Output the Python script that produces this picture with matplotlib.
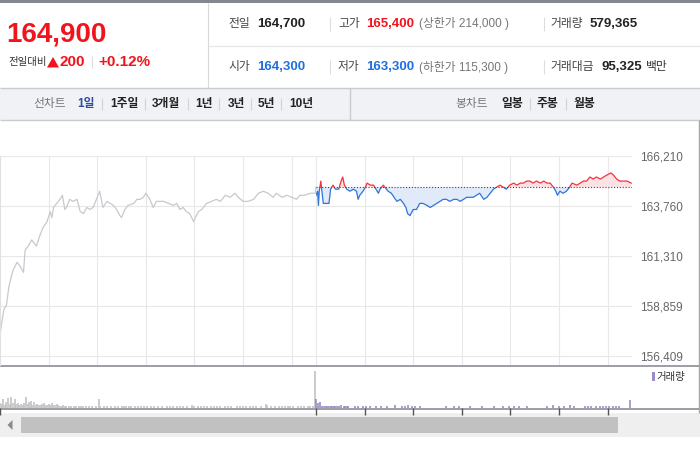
import numpy as np
import matplotlib
matplotlib.use("Agg")
import matplotlib.pyplot as plt
from matplotlib.patches import Rectangle, Polygon

plt.rcParams['font.family'] = ['Liberation Sans', 'Noto Sans CJK KR', 'DejaVu Sans']

# ---- data ----
base = 164700            # previous close
y_ticks = [156409, 158859, 161310, 163760, 166210]
hour_ticks = [60, 120, 180, 240, 300, 360, 390, 450, 510, 570, 630, 690, 750]
vol_ticks = [0, 390, 450, 510, 570, 630, 690, 750]

# previous day (minutes from 09:00, price)
prev_t = [0, 2, 5, 8, 11, 14, 16, 21, 25, 29, 31, 35, 39, 43, 45, 49, 53, 58, 62, 64,
          66, 70, 74, 77, 80, 82, 86, 90, 95, 99, 103, 107, 111, 115, 119, 123, 127, 132, 136, 140,
          144, 148, 150, 154, 158, 165, 169, 173, 177, 180, 185, 189, 193, 195, 202, 208, 214, 218, 222, 226,
          230, 234, 239, 241, 245, 249, 255, 261, 267, 272, 278, 284, 290, 294, 300, 306, 313, 319, 325, 331,
          337, 341, 348, 354, 360, 366, 370, 376, 383, 389, 390]
prev_px = [157400, 158000, 158700, 158900, 159800, 160300, 160600, 161000, 160800, 160500,
           161600, 161800, 162100, 161900, 161800, 162300, 162700, 163000, 163500, 163200,
           163700, 163900, 164100, 164300, 163600, 163700, 164100, 164000, 164100, 163500,
           163400, 163700, 163600, 163700, 164100, 164500, 163700, 164000, 163900, 163800,
           163600, 163300, 163200, 163600, 163800, 163900, 164100, 164100, 164200, 164400,
           164100, 163700, 164000, 164000, 164000, 163900, 163800, 163900, 163600, 163700,
           163500, 163400, 163000, 163200, 163500, 163600, 163900, 164000, 164100, 164000,
           164300, 164200, 164400, 164200, 164000, 164000, 164100, 164400, 164500, 164400,
           164200, 164400, 164200, 164300, 164200, 164100, 164300, 164300, 164400, 164400,
           164700]

# today
today_t = [0, 2, 3, 4, 6, 7, 9, 13, 16, 18, 21, 24, 28, 31, 33, 35, 38, 42, 46, 50,
           52, 54, 58, 61, 63, 67, 71, 74, 77, 79, 83, 85, 89, 93, 98, 100, 104, 108, 111, 113,
           116, 120, 124, 128, 132, 137, 141, 145, 149, 153, 157, 161, 165, 170, 174, 178, 182, 186, 190, 194,
           198, 202, 207, 211, 215, 219, 223, 227, 231, 235, 239, 244, 248, 252, 256, 260, 264, 268, 272, 277,
           281, 285, 289, 293, 296, 298, 301, 305, 309, 313, 316, 322, 326, 330, 334, 338, 342, 346, 351, 355,
           359, 364, 367, 371, 375, 379, 384, 389]
today_px = [164300, 164500, 163800, 164500, 165000, 164600, 163900, 163900, 163900, 164600,
            164800, 164600, 164600, 165000, 165200, 164800, 164600, 164500, 164600, 164500,
            164100, 164300, 164500, 164700, 164900, 164800, 164800, 164600, 164400, 164600,
            164800, 164700, 164500, 164400, 164100, 164000, 164100, 163900, 163700, 163400,
            163300, 163600, 163600, 163900, 163900, 163800, 163700, 163800, 163900, 164000,
            164100, 164100, 164000, 164100, 164100, 164000, 164100, 164200, 164200, 164200,
            164300, 164400, 164100, 164200, 164400, 164600, 164700, 164800, 164700, 164600,
            164800, 164900, 164800, 164900, 164900, 165000, 165000, 164900, 165000, 164900,
            165000, 164900, 164900, 164700, 164500, 164300, 164500, 164400, 164500, 164700,
            164900, 164800, 164900, 165000, 165000, 165200, 165100, 165200, 165100, 165200,
            165300, 165400, 165300, 165100, 165000, 165000, 165000, 164900]

# volume (shares)
prev_vol_t = [0, 2, 4, 6, 8, 10, 12, 14, 16, 18, 20, 22, 24, 26, 28, 30, 32, 34, 36, 38,
              40, 42, 44, 46, 48, 50, 52, 54, 56, 58, 60, 62, 64, 66, 68, 70, 72, 74, 76, 78,
              80, 82, 85, 88, 91, 94, 97, 100, 103, 106, 110, 114, 118, 122, 124, 128, 132, 137, 142, 146,
              150, 153, 156, 159, 162, 166, 170, 174, 178, 182, 186, 190, 195, 200, 206, 210, 214, 218, 222, 226,
              231, 237, 240, 244, 248, 252, 256, 260, 264, 268, 272, 278, 282, 285, 292, 296, 300, 304, 308, 312,
              316, 322, 328, 330, 335, 340, 344, 348, 352, 355, 358, 362, 368, 372, 375, 380, 383, 386, 389]
prev_vol = [10000, 8000, 18000, 6000, 12000, 20000, 8000, 22000, 10000, 18000,
            8000, 10000, 6000, 8000, 6000, 10000, 22000, 8000, 12000, 14000,
            6000, 12000, 6000, 8000, 6000, 6000, 8000, 10000, 6000, 6000,
            8000, 6000, 10000, 6000, 6000, 8000, 6000, 4000, 4000, 6000,
            4000, 4000, 4000, 4000, 3000, 4000, 3000, 4000, 3000, 3000,
            4000, 3000, 3000, 18000, 3000, 3000, 3000, 3000, 3000, 3000,
            3000, 3000, 3000, 3000, 3000, 3000, 3000, 3000, 3000, 3000,
            3000, 3000, 3000, 3000, 3000, 3000, 3000, 3000, 3000, 3000,
            3000, 6000, 3000, 3000, 3000, 3000, 3000, 3000, 3000, 3000,
            3000, 3000, 3000, 3000, 3000, 3000, 3000, 3000, 3000, 3000,
            3000, 3000, 8000, 6000, 3000, 3000, 3000, 3000, 3000, 3000,
            3000, 3000, 3000, 3000, 3000, 3000, 3000, 3000, 74000]
today_vol_t = [0, 2, 5, 8, 10, 12, 14, 16, 18, 20, 22, 24, 26, 28, 31, 34, 36, 38, 40, 48,
               52, 58, 62, 67, 74, 80, 88, 97, 106, 110, 113, 118, 122, 128, 161, 170, 176, 190, 205, 220,
               231, 238, 244, 250, 260, 285, 293, 300, 306, 314, 318, 332, 336, 340, 345, 350, 354, 358, 362, 366,
               370, 374, 387]
today_vol = [18000, 10000, 12000, 4000, 4000, 4000, 4000, 4000, 4000, 4000,
             4000, 4000, 4000, 4000, 6000, 4000, 4000, 4000, 4000, 3000,
             3000, 3000, 3000, 3000, 4000, 3000, 3000, 6000, 3000, 3000,
             6000, 3000, 3000, 3000, 3000, 3000, 3000, 3000, 3000, 3000,
             4000, 3000, 3000, 3000, 3000, 3000, 5000, 3000, 3000, 6000,
             4000, 3000, 3000, 3000, 3000, 3000, 4000, 3000, 3000, 3000,
             3000, 3000, 16000]

RED = '#f2141c'
BLUE = '#1e6fe0'
DARK = '#222222'

fig = plt.figure(figsize=(7, 4.5), dpi=100)

# background / header canvas in pixel coords
bg = fig.add_axes([0, 0, 1, 1])
bg.set_xlim(0, 700)
bg.set_ylim(450, 0)
bg.axis('off')


def line(x0, y0, x1, y1, c='#d8d8d8', lw=0.8):
    bg.plot([x0, x1], [y0, y1], color=c, lw=lw, solid_capstyle='butt')


def txt(x, y, s, size=8.5, c=DARK, bold=False, **kw):
    bg.text(x, y, s, fontsize=size, color=c, va='center', ha='left',
            fontweight='bold' if bold else 'normal', **kw)


# top strip
bg.add_patch(Rectangle((0, 0), 700, 3, color='#83878e', lw=0))
line(208, 3, 208, 88)
line(208, 45.5, 700, 45.5, c='#e6e6e6')

# current price block
txt(6, 35, '164,900', size=20, c=RED, bold=True)
txt(8, 62, '전일대비', size=7.5, c='#333333')
bg.add_patch(Polygon([(47, 67.5), (59, 67.5), (53, 57)], closed=True, color=RED, lw=0))
txt(59.5, 62, '200', size=11, c=RED, bold=True)
line(92, 56, 92, 68, c='#dddddd')
txt(98, 62, '+0.12%', size=11, c=RED, bold=True)

# quote rows
quote_rows = [
    (24, '전일', '164,700', DARK, '고가', '165,400', RED, '(상한가 214,000 )', '거래량', '579,365', ''),
    (67, '시가', '164,300', BLUE, '저가', '163,300', BLUE, '(하한가 115,300 )', '거래대금', '95,325', '백만'),
]
for yy, l1, v1, c1, l2, v2, c2, lim, l3, v3, unit in quote_rows:
    txt(228, yy, l1, size=8.5, c='#444444')
    txt(257, yy, v1, size=9.5, c=c1, bold=True)
    line(330, yy - 7, 330, yy + 7, c='#dddddd')
    txt(338, yy, l2, size=8.5, c='#444444')
    txt(366, yy, v2, size=9.5, c=c2, bold=True)
    txt(419, yy, lim, size=8.5, c='#777777')
    line(544, yy - 7, 544, yy + 7, c='#dddddd')
    txt(550, yy, l3, size=8.5, c='#444444')
    if unit:
        txt(601, yy, v3, size=9.5, c=DARK, bold=True)
        txt(646, yy, unit, size=8.5, c='#333333')
    else:
        txt(590, yy, v3, size=9.5, c=DARK, bold=True)

# tab bar
bg.add_patch(Rectangle((0, 88), 700, 32, facecolor='#f0f2f6', edgecolor='none'))
line(0, 88, 700, 88, c='#c8cbd0', lw=1)
line(0, 120, 700, 120, c='#c8cbd0', lw=1)
line(350, 88, 350, 120, c='#c8cbd0', lw=1)
ty = 104
txt(33, ty, '선차트', size=8.5, c='#777777')
tabs = [('1일', 77, '#2b4ea2'), ('1주일', 110, DARK), ('3개월', 152, DARK), ('1년', 195, DARK),
        ('3년', 228, DARK), ('5년', 258, DARK), ('10년', 289, DARK)]
for s, x, c in tabs:
    txt(x, ty, s, size=8.5, c=c, bold=True)
for x in [102, 145, 188, 219, 251, 281]:
    line(x, ty - 6, x, ty + 6, c='#d0d3d8')
txt(455, ty, '봉차트', size=8.5, c='#777777')
for s, x in [('일봉', 501), ('주봉', 537), ('월봉', 573)]:
    txt(x, ty, s, size=8.5, c=DARK, bold=True)
for x in [530, 566]:
    line(x, ty - 6, x, ty + 6, c='#d0d3d8')

# right border and pane separators
line(698.5, 120, 698.5, 413, c='#a8a8a8', lw=1)
line(0, 365.5, 699, 365.5, c='#80848b', lw=1.1)
line(0, 408.5, 699, 408.5, c='#80848b', lw=1.1)

# volume legend
bg.add_patch(Rectangle((652, 372), 2.5, 9, color='#9c8bc9', lw=0))
txt(656.5, 377, '거래량', size=7.5, c='#333333')

# scrollbar
bg.add_patch(Rectangle((0, 413), 700, 24, color='#efefef', lw=0))
bg.add_patch(Rectangle((21, 417), 597, 16, color='#c1c1c1', lw=0))
bg.add_patch(Polygon([(7.5, 425), (12.5, 420), (12.5, 430)], closed=True, color='#8a8a8a', lw=0))

# ---- price chart ----
ax = fig.add_axes([0, 1 - 365 / 450, 632 / 700, 209 / 450])
ax.set_facecolor('none')
per_px = (y_ticks[-1] - y_ticks[0]) / 199.5
ax.set_xlim(0, 780)
ax.set_ylim(y_ticks[-1] - 209 * per_px, y_ticks[-1] + 0.5 * per_px)
ax.set_yticks(y_ticks)
ax.set_yticklabels(['{:,}'.format(v) for v in y_ticks])
ax.yaxis.tick_right()
ax.tick_params(axis='y', length=0, pad=6, labelsize=8.5, labelcolor='#666666')
ax.set_xticks(hour_ticks)
ax.tick_params(axis='x', length=0, labelbottom=False)
ax.grid(True, color='#e8e8e8', lw=0.8)
ax.set_axisbelow(True)
for s in ['top', 'right', 'bottom']:
    ax.spines[s].set_visible(False)
ax.spines['left'].set_color('#e0e0e0')

ax.plot(prev_t, prev_px, color='#c6c9ce', lw=0.9)

tx = np.array(today_t) + 390
tp = np.array(today_px)
ax.fill_between(tx, tp, base, where=tp >= base, interpolate=True, color='#fde2e5', lw=0)
ax.fill_between(tx, tp, base, where=tp <= base, interpolate=True, color='#e1eaf8', lw=0)
up = ax.plot(tx, tp, color='#f5323b', lw=0.9)[0]
dn = ax.plot(tx, tp, color='#2f74d9', lw=0.9)[0]
up.set_clip_path(Rectangle((390, base), 400, 20000, transform=ax.transData))
dn.set_clip_path(Rectangle((390, base - 20000), 400, 20000, transform=ax.transData))
ax.plot([390, 780], [base, base], color='#444444', lw=0.8, ls=(0, (1, 1.6)))

# ---- volume chart ----
vax = fig.add_axes([0, 1 - 407.8 / 450, 632 / 700, 41.8 / 450])
vax.set_facecolor('none')
vax.set_xlim(0, 780)
vax.set_ylim(0, 84000)
vax.vlines(prev_vol_t, 0, prev_vol, color='#c2c2c2', lw=1.2)
vax.vlines(np.array(today_vol_t) + 390, 0, today_vol, color='#9582c6', lw=1.1)
vax.set_xticks(vol_ticks)
vax.tick_params(axis='x', length=5, width=1, color='#555555', labelbottom=False)
vax.set_yticks([])
for s in vax.spines.values():
    s.set_visible(False)

fig.savefig('out.png', dpi=100)
